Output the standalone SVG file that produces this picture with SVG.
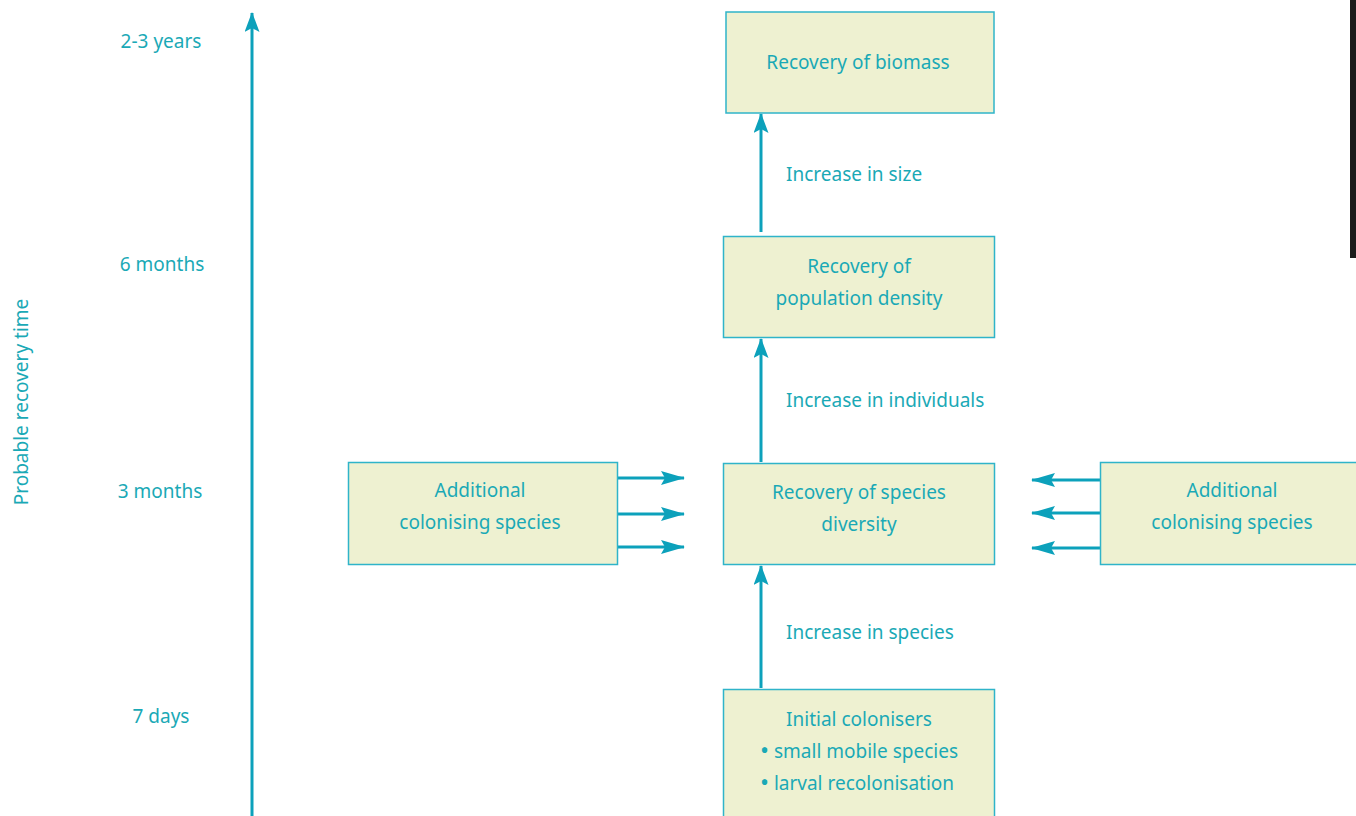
<svg xmlns="http://www.w3.org/2000/svg" width="1356" height="816" viewBox="0 0 1356 816">
<style>
.box{fill:#eef1d1;stroke:#2fb4c9;stroke-width:1.5}
.t{font-family:"Noto Sans","Open Sans",sans-serif;font-size:19px;fill:#1aa9b6}
.c{text-anchor:middle}
.b{font-size:24px}
.ln{stroke:#0ca1bb;stroke-width:3;fill:none}
</style>
<defs>
<marker id="ah" viewBox="0 0 20 15" refX="19" refY="7.5" markerWidth="20" markerHeight="15" markerUnits="userSpaceOnUse" orient="auto">
<path d="M0,0 L20,7.5 L0,15 L4,7.5 Z" fill="#0ca1bb"/>
</marker>
<marker id="ah2" viewBox="0 0 24 14" refX="23" refY="7" markerWidth="24" markerHeight="14" markerUnits="userSpaceOnUse" orient="auto">
<path d="M0,0 L24,7 L0,14 L4,7 Z" fill="#0ca1bb"/>
</marker>
</defs>
<rect x="1350" y="0" width="6" height="258" fill="#1b1b1b"/>
<g id="axis">
<line class="ln" x1="252" y1="816" x2="252" y2="13" marker-end="url(#ah)"/>
<text class="t" transform="translate(28,402) rotate(-90)" text-anchor="middle">Probable recovery time</text>
<text class="t c" x="161" y="48">2-3 years</text>
<text class="t c" x="162" y="271">6 months</text>
<text class="t c" x="160" y="498">3 months</text>
<text class="t c" x="161" y="723">7 days</text>
</g>
<g id="connectors">
<line class="ln" x1="761" y1="232" x2="761" y2="114" marker-end="url(#ah)"/>
<line class="ln" x1="761" y1="462" x2="761" y2="339" marker-end="url(#ah)"/>
<line class="ln" x1="761" y1="688" x2="761" y2="566" marker-end="url(#ah)"/>
<line class="ln" x1="617" y1="478" x2="684" y2="478" marker-end="url(#ah2)"/>
<line class="ln" x1="617" y1="514" x2="684" y2="514" marker-end="url(#ah2)"/>
<line class="ln" x1="617" y1="547" x2="684" y2="547" marker-end="url(#ah2)"/>
<line class="ln" x1="1100" y1="480" x2="1032" y2="480" marker-end="url(#ah2)"/>
<line class="ln" x1="1100" y1="513" x2="1032" y2="513" marker-end="url(#ah2)"/>
<line class="ln" x1="1100" y1="548" x2="1032" y2="548" marker-end="url(#ah2)"/>
<text class="t" x="786" y="181">Increase in size</text>
<text class="t" x="786" y="407">Increase in individuals</text>
<text class="t" x="786" y="639">Increase in species</text>
</g>
<g id="biomass">
<rect class="box" x="726" y="12" width="268" height="101"/>
<text class="t c" x="858" y="69">Recovery of biomass</text>
</g>
<g id="density">
<rect class="box" x="723.5" y="236.5" width="271" height="101"/>
<text class="t c" x="859" y="273">Recovery of</text>
<text class="t c" x="859" y="305">population density</text>
</g>
<g id="diversity">
<rect class="box" x="723.5" y="463.5" width="271" height="101"/>
<text class="t c" x="859" y="499">Recovery of species</text>
<text class="t c" x="859" y="531">diversity</text>
</g>
<g id="initial">
<rect class="box" x="723.5" y="689.5" width="271" height="140"/>
<text class="t c" x="859" y="726">Initial colonisers</text>
<text class="t c" x="859" y="758"><tspan class="b" dy="1">•</tspan><tspan dy="-1"> small mobile species</tspan></text>
<text class="t c" x="857" y="790"><tspan class="b" dy="1">•</tspan><tspan dy="-1"> larval recolonisation</tspan></text>
</g>
<g id="left-additional">
<rect class="box" x="348.5" y="462.5" width="269" height="102"/>
<text class="t c" x="480" y="497">Additional</text>
<text class="t c" x="480" y="529">colonising species</text>
</g>
<g id="right-additional">
<rect class="box" x="1100.5" y="462.5" width="270" height="102"/>
<text class="t c" x="1232" y="497">Additional</text>
<text class="t c" x="1232" y="529">colonising species</text>
</g>
</svg>
